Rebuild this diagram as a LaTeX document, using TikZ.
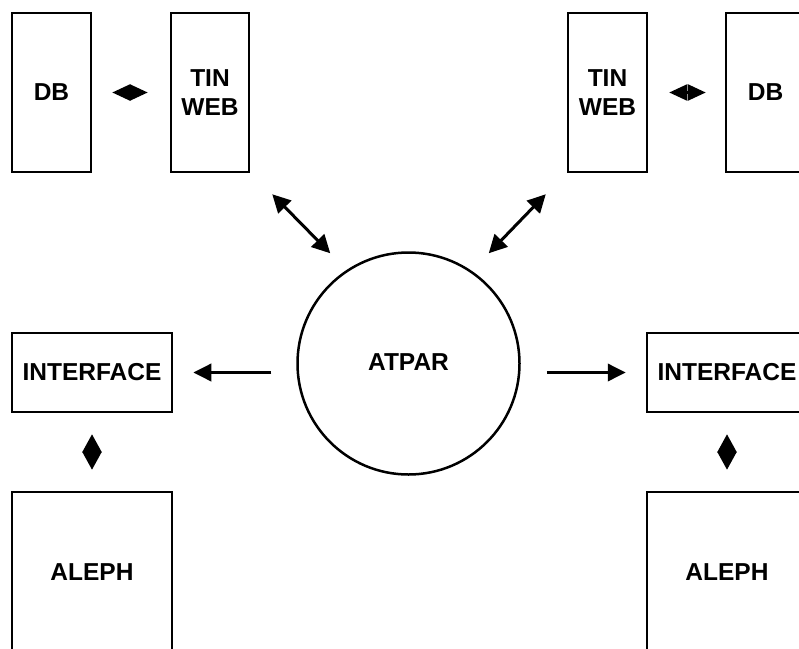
\documentclass[tikz,border=0pt]{standalone}
\usepackage{fontspec}
\setmainfont{Liberation Sans}
\usetikzlibrary{arrows.meta}
\begin{document}
\begin{tikzpicture}[x=1pt,y=-1pt,
  box/.style={draw, line width=2.5pt, inner sep=0pt, align=center,
    font=\fontsize{24.5}{29}\selectfont\bfseries},
  dblsmall/.style={line width=2.5pt, {Triangle[length=18pt,width=16pt]}-{Triangle[length=18pt,width=16pt]}},
  dblvert/.style={line width=2.5pt, {Triangle[length=18pt,width=19pt]}-{Triangle[length=18pt,width=19pt]}},
  dbldiag/.style={line width=3pt, {Triangle[length=18pt,width=18pt]}-{Triangle[length=18pt,width=18pt]}},
  single/.style={line width=3.6pt, -{Triangle[length=18pt,width=17pt]}}]
\useasboundingbox (0,0) rectangle (799,648);
% boxes
\node[box, minimum width=79pt, minimum height=159pt] (db1) at (51.5,92.5) {DB};
\node[box, minimum width=78pt, minimum height=159pt] (tw1) at (210,92.5) {TIN\\WEB};
\node[box, minimum width=79pt, minimum height=159pt] (tw2) at (607.5,92.5) {TIN\\WEB};
\node[box, minimum width=79pt, minimum height=159pt] (db2) at (765.5,92.5) {DB};
\node[box, circle, minimum size=222pt] (atpar) at (408.5,363.5) {\raisebox{3pt}{ATPAR}};
\node[box, minimum width=160pt, minimum height=79pt] (if1) at (92,372.5) {INTERFACE};
\node[box, minimum width=160pt, minimum height=79pt] (if2) at (727,372.5) {INTERFACE};
\node[box, minimum width=160pt, minimum height=160pt] (al1) at (92,572) {ALEPH};
\node[box, minimum width=160pt, minimum height=160pt] (al2) at (727,572) {ALEPH};
% connectors
\draw[dblsmall, shorten <=20pt, shorten >=22pt] (db1.east) -- (tw1.west);
\draw[dblsmall, shorten <=21pt, shorten >=19pt] (tw2.east) -- (db2.west);
\draw[dbldiag] ([shift={(22,21)}]tw1.south east) -- ([shift={(80,80)}]tw1.south east);
\draw[dbldiag] ([shift={(-21,21)}]tw2.south west) -- ([shift={(-78,80)}]tw2.south west);
\draw[single] ([xshift=98pt]if1.east) -- ([xshift=20pt]if1.east);
\draw[single] ([xshift=-99pt]if2.west) -- ([xshift=-20pt]if2.west);
\draw[dblvert, shorten <=21pt, shorten >=21pt] (if1.south) -- (al1.north);
\draw[dblvert, shorten <=21pt, shorten >=21pt] (if2.south) -- (al2.north);
\end{tikzpicture}
\end{document}
